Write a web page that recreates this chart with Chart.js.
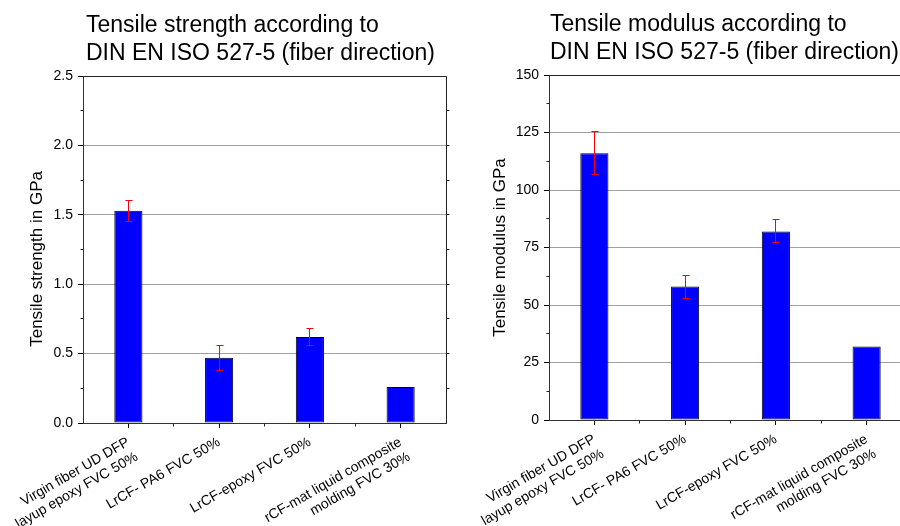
<!DOCTYPE html>
<html>
<head>
<meta charset="utf-8">
<script src="https://cdn.jsdelivr.net/npm/chart.js@4/dist/chart.umd.min.js"></script>
<style>
html, body { margin: 0; padding: 0; overflow: hidden; background: #fff; }
#page { position: relative; width: 900px; height: 526px; overflow: hidden; }
.title { position: absolute; font-family: "Liberation Sans", Arial, sans-serif; font-size: 23px; line-height: 27.5px; color: #000; white-space: nowrap; }
canvas { position: absolute; top: 0; }
</style>
</head>
<body>
<div id="page">
    <canvas id="strengthChart" width="450" height="526" style="left:0"></canvas>
    <canvas id="modulusChart" width="470" height="526" style="left:450px"></canvas>
    <div class="title" style="left:86px; top:11px">Tensile strength according to<br>DIN EN ISO 527-5 (fiber direction)</div>
    <div class="title" style="left:550px; top:10px">Tensile modulus according to<br>DIN EN ISO 527-5 (fiber direction)</div>
</div>
<script>
var categories = [
    ['Virgin fiber UD DFP', 'layup epoxy FVC 50%'],
    'LrCF- PA6 FVC 50%',
    'LrCF-epoxy FVC 50%',
    ['rCF-mat liquid composite', 'molding FVC 30%']
];
var strengthValues = [1.53, 0.47, 0.62, 0.26];
var strengthErrors = [0.075, 0.09, 0.06, 0];
var modulusValues = [116, 58, 82, 32];
var modulusErrors = [9.4, 5, 5, 0];

var strengthMax = 2.5;
var strengthStep = 0.5;
var modulusMax = 150;
var modulusStep = 25;

Chart.defaults.font.family = '"Liberation Sans", Arial, sans-serif';
Chart.defaults.color = '#000';

function crisp(v) {
    return Math.round(v - 0.5) + 0.5;
}

// red error bars on top of the bars
var errorBarsPlugin = {
    id: 'errorBars',
    afterDatasetsDraw: function (chart, args, opts) {
        var ctx = chart.ctx;
        var meta = chart.getDatasetMeta(0);
        var yScale = chart.scales.y;
        var values = chart.data.datasets[0].data;
        ctx.save();
        ctx.strokeStyle = '#ff0000';
        ctx.lineWidth = 1;
        for (var i = 0; i < meta.data.length; i++) {
            var err = opts.errors[i];
            if (!err) continue;
            var x = crisp(meta.data[i].x);
            var top = crisp(yScale.getPixelForValue(values[i] + err));
            var bottom = crisp(yScale.getPixelForValue(values[i] - err));
            ctx.beginPath();
            ctx.moveTo(x, top);
            ctx.lineTo(x, bottom);
            ctx.moveTo(x - 3, top);
            ctx.lineTo(x + 4, top);
            ctx.moveTo(x - 3, bottom);
            ctx.lineTo(x + 4, bottom);
            ctx.stroke();
        }
        ctx.restore();
    }
};

// box frame and minor ticks
var framePlugin = {
    id: 'frame',
    afterDraw: function (chart, args, opts) {
        var ctx = chart.ctx;
        var area = chart.chartArea;
        var xScale = chart.scales.x;
        var yScale = chart.scales.y;
        var left = crisp(area.left);
        var right = crisp(area.right);
        var top = crisp(area.top);
        var bottom = crisp(area.bottom);
        ctx.save();
        ctx.strokeStyle = '#222';
        ctx.lineWidth = 1;
        ctx.beginPath();
        ctx.moveTo(left, top);
        ctx.lineTo(right, top);
        ctx.lineTo(right, bottom);
        for (var v = opts.step / 2; v < opts.max; v += opts.step) {
            var py = crisp(yScale.getPixelForValue(v));
            ctx.moveTo(left - 3, py);
            ctx.lineTo(left, py);
        }
        for (var w = opts.step / 2; w < opts.max; w += opts.step / 2) {
            var ry = crisp(yScale.getPixelForValue(w));
            ctx.moveTo(right, ry);
            ctx.lineTo(right + 3, ry);
        }
        for (var i = 0; i < categories.length - 1; i++) {
            var px = crisp(xScale.getPixelForValue(i + 0.5));
            ctx.moveTo(px, bottom);
            ctx.lineTo(px, bottom + 3);
        }
        ctx.stroke();
        ctx.restore();
    }
};

function makeChart(canvasId, values, errors, max, step, decimals, yTitle, box) {
    var ctx = document.getElementById(canvasId).getContext('2d');
    return new Chart(ctx, {
        type: 'bar',
        data: {
            labels: categories,
            datasets: [{
                data: values,
                backgroundColor: '#0000ff',
                borderColor: '#000000',
                borderWidth: 1,
                borderSkipped: false,
                barPercentage: 0.31,
                categoryPercentage: 1
            }]
        },
        options: {
            responsive: false,
            animation: false,
            devicePixelRatio: 1,
            layout: { padding: { top: box.top, right: box.right, left: 0, bottom: 0 } },
            plugins: {
                legend: { display: false },
                tooltip: { enabled: false },
                errorBars: { errors: errors },
                frame: { max: max, step: step }
            },
            scales: {
                x: {
                    offset: true,
                    grid: { offset: false, drawOnChartArea: false, drawTicks: true, tickLength: 5, tickColor: '#000' },
                    border: { color: '#333' },
                    ticks: {
                        color: '#000',
                        font: { size: 14 },
                        minRotation: 30,
                        maxRotation: 30,
                        autoSkip: false,
                        padding: 6
                    },
                    afterFit: function (scale) {
                        scale.height = box.bottom;
                        scale.paddingLeft = 0;
                        scale.paddingRight = 0;
                    }
                },
                y: {
                    min: 0,
                    max: max,
                    grid: {
                        color: function (c) {
                            if (c.tick.value === max) return '#000';
                            if (c.tick.value === 0) return 'rgba(0,0,0,0)';
                            return '#a0a0a0';
                        },
                        tickLength: 5,
                        tickColor: '#000'
                    },
                    border: { color: '#333' },
                    ticks: {
                        stepSize: step,
                        color: '#000',
                        font: { size: 14 },
                        padding: 5,
                        callback: function (value) { return value.toFixed(decimals); }
                    },
                    title: {
                        display: true,
                        text: yTitle,
                        color: '#000',
                        font: { size: 17 },
                        padding: { top: box.titlePad, bottom: 0 }
                    },
                    afterFit: function (scale) { scale.width = box.axisWidth; }
                }
            }
        },
        plugins: [errorBarsPlugin, framePlugin]
    });
}

makeChart('strengthChart', strengthValues, strengthErrors, strengthMax, strengthStep, 1,
    'Tensile strength in GPa\u00a0\u00a0\u00a0\u00a0', { top: 76, right: 4, bottom: 103, axisWidth: 83, titlePad: 27 });
makeChart('modulusChart', modulusValues, modulusErrors, modulusMax, modulusStep, 0,
    'Tensile modulus in GPa', { top: 75, right: 8, bottom: 106, axisWidth: 99, titlePad: 40 });
</script>
</body>
</html>
